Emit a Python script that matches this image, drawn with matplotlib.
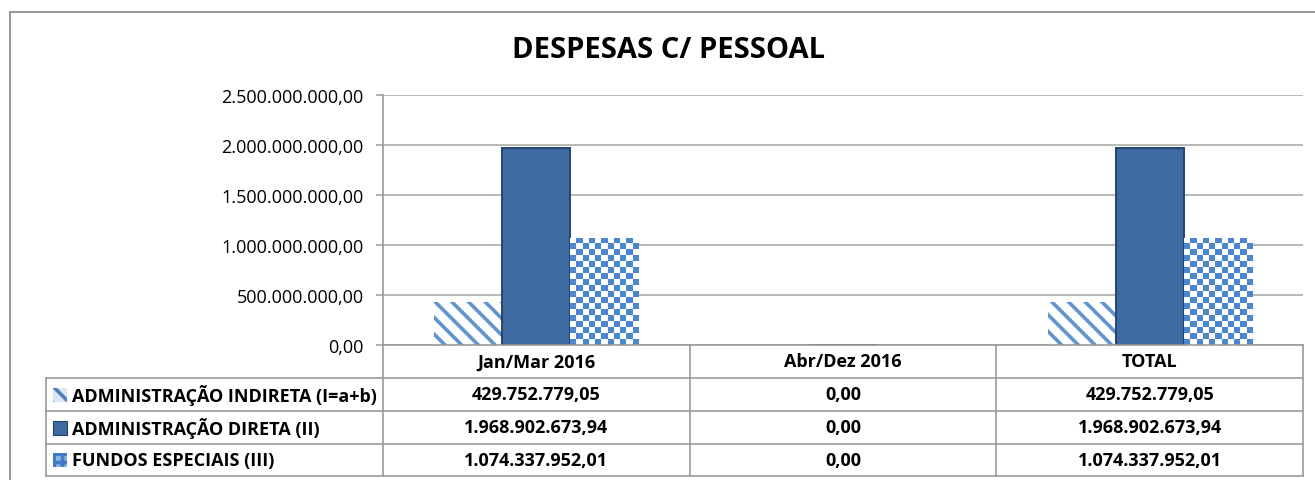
import matplotlib
matplotlib.use('Agg')
import matplotlib.pyplot as plt
import numpy as np
from matplotlib.patches import Rectangle
from matplotlib.lines import Line2D
from matplotlib.colors import ListedColormap
from matplotlib.transforms import blended_transform_factory

# ---------------- data ----------------
title = "DESPESAS C/ PESSOAL"
categories = ["Jan/Mar 2016", "Abr/Dez 2016", "TOTAL"]
series_names = ["ADMINISTRAÇÃO INDIRETA (I=a+b)",
                "ADMINISTRAÇÃO DIRETA (II)",
                "FUNDOS ESPECIAIS (III)"]
indireta = [429752779.05, 0.00, 429752779.05]
direta = [1968902673.94, 0.00, 1968902673.94]
fundos = [1074337952.01, 0.00, 1074337952.01]
yticks = [0, 500000000, 1000000000, 1500000000, 2000000000, 2500000000]


def br(v):
    s = f"{v:,.2f}"
    return s.replace(",", "X").replace(".", ",").replace("X", ".")


# ---------------- figure ----------------
plt.rcParams['font.family'] = ['Open Sans', 'DejaVu Sans']
plt.rcParams['hatch.linewidth'] = 2.6

W, H = 1315, 481
fig = plt.figure(figsize=(W / 100, H / 100), dpi=100)


def fx(px):
    return px / W


def fy(py):
    return 1 - py / H


ax_l, ax_r, ax_t, ax_b = 383, 1303, 96, 346
ax = fig.add_axes([fx(ax_l), fy(ax_b), (ax_r - ax_l) / W, (ax_b - ax_t) / H])

x = np.arange(len(categories))
w = 0.222
grid_c = '#a6a6a6'
line_c = '#9a9a9a'

# series 1: diagonal stripes
ax.bar(x - w, indireta, w, facecolor='white', edgecolor='#5f93d4',
       hatch='\\\\', linewidth=0, zorder=2)
# series 2: solid dark blue
ax.bar(x, direta, w, facecolor='#3c6aa1', edgecolor='#24456f',
       linewidth=1.4, zorder=2)
# series 3: checker pattern
fb = ax.bar(x + w, fundos, w, facecolor='white', edgecolor='none',
            linewidth=0, zorder=2)
ppu_x = (ax_r - ax_l) / 3.0
ppu_y = (ax_b - ax_t) / 2.5e9
cmap = ListedColormap(['white', '#4a86d2'])
for rect in fb:
    h = rect.get_height()
    if h <= 0:
        continue
    x0 = rect.get_x()
    x1 = x0 + rect.get_width()
    nx = max(1, int(round(rect.get_width() * ppu_x / 6.0)))
    ny = max(1, int(round(h * ppu_y / 6.0)))
    arr = np.add.outer(np.arange(ny), np.arange(nx)) % 2
    im = ax.imshow(arr, cmap=cmap, extent=(x0, x1, 0, h), origin='upper',
                   interpolation='nearest', aspect='auto', zorder=2.5)
    im.set_clip_path(rect)

ax.set_xlim(-0.5, 2.5)
ax.set_ylim(0, 2.5e9)
ax.set_yticks(yticks)
ax.set_yticklabels([br(v) for v in yticks], fontsize=13)
ax.set_xticks([])
ax.yaxis.grid(True, color=grid_c, linewidth=1.1)
ax.set_axisbelow(True)
for s in ['top', 'right']:
    ax.spines[s].set_visible(False)
ax.spines['left'].set_color(line_c)
ax.spines['bottom'].set_color(line_c)
ax.spines['left'].set_linewidth(1.2)
ax.spines['bottom'].set_linewidth(1.2)
ax.tick_params(axis='y', length=5, color=line_c, width=1.1, pad=9)

# ---------------- title ----------------
fig.text(fx(669), fy(50), title, ha='center', va='center',
         fontsize=21, fontweight='bold')

# ---------------- data table ----------------
tr = blended_transform_factory(ax.transData, fig.transFigure)
row_edges = [346, 379, 412, 445, 477]
label_left = 46

for i in range(len(categories) + 1):
    fig.add_artist(Line2D([i - 0.5, i - 0.5], [fy(row_edges[0]), fy(row_edges[-1])],
                          transform=tr, color=line_c, linewidth=1.2))
for yy in row_edges[1:]:
    fig.add_artist(Line2D([-0.5, 2.5], [fy(yy), fy(yy)], transform=tr,
                          color=line_c, linewidth=1.2))
    fig.add_artist(Line2D([fx(label_left), fx(ax_l)], [fy(yy), fy(yy)],
                          transform=fig.transFigure, color=line_c, linewidth=1.2))
fig.add_artist(Line2D([fx(label_left), fx(label_left)], [fy(row_edges[1]), fy(row_edges[-1])],
                      transform=fig.transFigure, color=line_c, linewidth=1.2))

hy = (row_edges[0] + row_edges[1]) / 2
for i, c in enumerate(categories):
    fig.text(i, fy(hy), c, transform=tr, ha='center', va='center',
             fontsize=13, fontweight='bold')

series_vals = [indireta, direta, fundos]
for r, (name, vals) in enumerate(zip(series_names, series_vals)):
    cy = (row_edges[r + 1] + row_edges[r + 2]) / 2
    for i, v in enumerate(vals):
        fig.text(i, fy(cy), br(v), transform=tr, ha='center', va='center',
                 fontsize=13, fontweight='bold')
    fig.text(fx(72), fy(cy), name, ha='left', va='center',
             fontsize=13, fontweight='bold')
    # legend key
    kx, ks = 53, 14
    if r == 0:
        key = Rectangle((fx(kx), fy(cy + ks / 2)), ks / W, ks / H, transform=fig.transFigure,
                        facecolor='#dbe7f6', edgecolor='#4f7fc0', hatch='\\\\', linewidth=0)
    elif r == 1:
        key = Rectangle((fx(kx), fy(cy + ks / 2)), ks / W, ks / H, transform=fig.transFigure,
                        facecolor='#3c6aa1', edgecolor='#24456f', linewidth=0.8)
    else:
        key = Rectangle((fx(kx), fy(cy + ks / 2)), ks / W, ks / H, transform=fig.transFigure,
                        facecolor='#8fb3e2', edgecolor='#3f7bc8', hatch='++', linewidth=0)
    fig.add_artist(key)

# outer chart border
fig.add_artist(Rectangle((fx(10), -0.2), 2.0, fy(13) + 0.2, transform=fig.transFigure,
                         facecolor='none', edgecolor='#8c8c8c', linewidth=1.3))

fig.savefig('out.png', dpi=100)
